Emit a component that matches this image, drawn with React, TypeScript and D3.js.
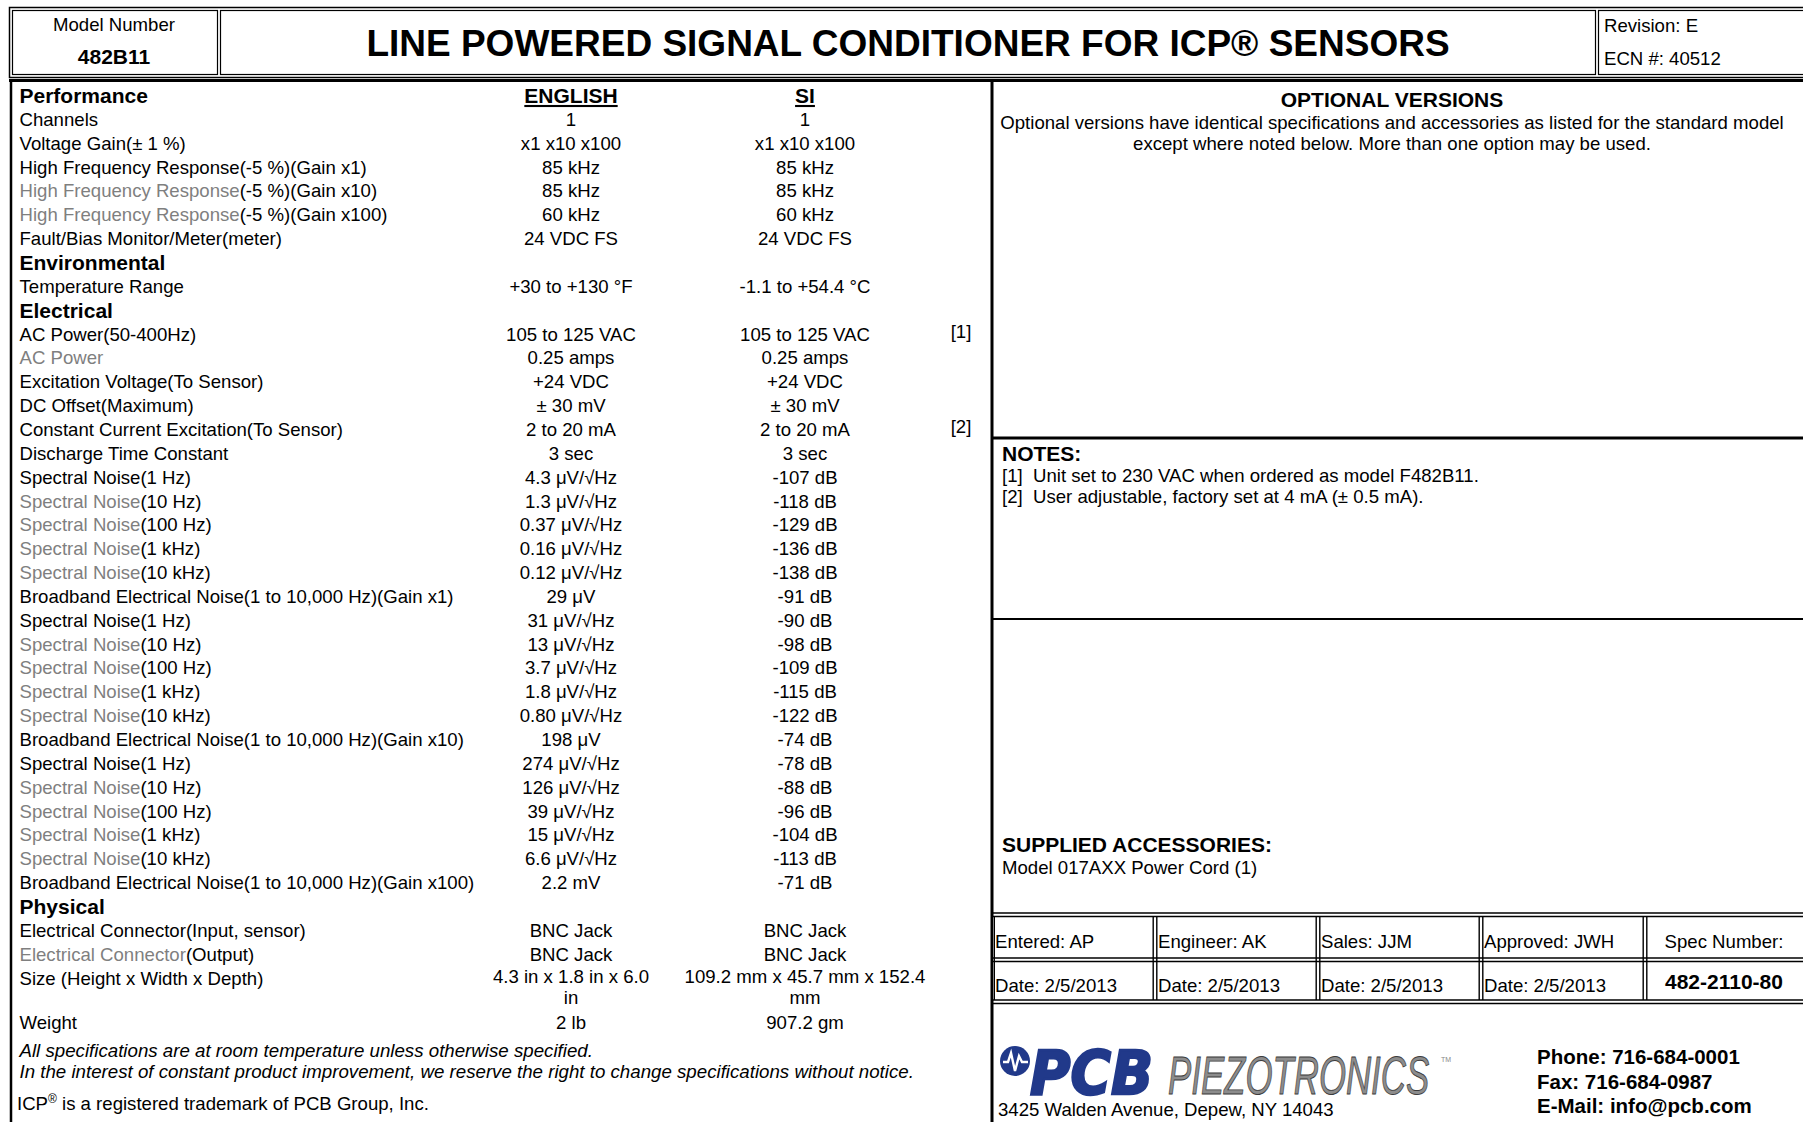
import React from 'react';
import * as d3 from 'd3';

type SpecRow = { gray?: string; label: string; en: string[]; si: string[]; note?: string };

const FONT = '"Liberation Sans", Arial, Helvetica, sans-serif';
const GRAY = '#7f7f7f';

// ---- data ----
const modelNumber = '482B11';
const title = 'LINE POWERED SIGNAL CONDITIONER FOR ICP\u00AE SENSORS';
const revisionInfo = ['Revision: E', 'ECN #: 40512'];
const columnHeads = ['ENGLISH', 'SI'];
const sectionTitles = ['Performance', 'Environmental', 'Electrical', 'Physical'];

const performanceRows: SpecRow[] = [
  { label: 'Channels', en: ['1'], si: ['1'] },
  { label: 'Voltage Gain(\u00B1 1 %)', en: ['x1 x10 x100'], si: ['x1 x10 x100'] },
  { label: 'High Frequency Response(-5 %)(Gain x1)', en: ['85 kHz'], si: ['85 kHz'] },
  { gray: 'High Frequency Response', label: '(-5 %)(Gain x10)', en: ['85 kHz'], si: ['85 kHz'] },
  { gray: 'High Frequency Response', label: '(-5 %)(Gain x100)', en: ['60 kHz'], si: ['60 kHz'] },
  { label: 'Fault/Bias Monitor/Meter(meter)', en: ['24 VDC FS'], si: ['24 VDC FS'] },
];

const environmentalRows: SpecRow[] = [
  { label: 'Temperature Range', en: ['+30 to +130 \u00B0F'], si: ['-1.1 to +54.4 \u00B0C'] },
];

const electricalRows: SpecRow[] = [
  { label: 'AC Power(50-400Hz)', en: ['105 to 125 VAC'], si: ['105 to 125 VAC'], note: '[1]' },
  { gray: 'AC Power', label: '', en: ['0.25 amps'], si: ['0.25 amps'] },
  { label: 'Excitation Voltage(To Sensor)', en: ['+24 VDC'], si: ['+24 VDC'] },
  { label: 'DC Offset(Maximum)', en: ['\u00B1 30 mV'], si: ['\u00B1 30 mV'] },
  { label: 'Constant Current Excitation(To Sensor)', en: ['2 to 20 mA'], si: ['2 to 20 mA'], note: '[2]' },
  { label: 'Discharge Time Constant', en: ['3 sec'], si: ['3 sec'] },
  { label: 'Spectral Noise(1 Hz)', en: ['4.3 \u03BCV/\u221AHz'], si: ['-107 dB'] },
  { gray: 'Spectral Noise', label: '(10 Hz)', en: ['1.3 \u03BCV/\u221AHz'], si: ['-118 dB'] },
  { gray: 'Spectral Noise', label: '(100 Hz)', en: ['0.37 \u03BCV/\u221AHz'], si: ['-129 dB'] },
  { gray: 'Spectral Noise', label: '(1 kHz)', en: ['0.16 \u03BCV/\u221AHz'], si: ['-136 dB'] },
  { gray: 'Spectral Noise', label: '(10 kHz)', en: ['0.12 \u03BCV/\u221AHz'], si: ['-138 dB'] },
  { label: 'Broadband Electrical Noise(1 to 10,000 Hz)(Gain x1)', en: ['29 \u03BCV'], si: ['-91 dB'] },
  { label: 'Spectral Noise(1 Hz)', en: ['31 \u03BCV/\u221AHz'], si: ['-90 dB'] },
  { gray: 'Spectral Noise', label: '(10 Hz)', en: ['13 \u03BCV/\u221AHz'], si: ['-98 dB'] },
  { gray: 'Spectral Noise', label: '(100 Hz)', en: ['3.7 \u03BCV/\u221AHz'], si: ['-109 dB'] },
  { gray: 'Spectral Noise', label: '(1 kHz)', en: ['1.8 \u03BCV/\u221AHz'], si: ['-115 dB'] },
  { gray: 'Spectral Noise', label: '(10 kHz)', en: ['0.80 \u03BCV/\u221AHz'], si: ['-122 dB'] },
  { label: 'Broadband Electrical Noise(1 to 10,000 Hz)(Gain x10)', en: ['198 \u03BCV'], si: ['-74 dB'] },
  { label: 'Spectral Noise(1 Hz)', en: ['274 \u03BCV/\u221AHz'], si: ['-78 dB'] },
  { gray: 'Spectral Noise', label: '(10 Hz)', en: ['126 \u03BCV/\u221AHz'], si: ['-88 dB'] },
  { gray: 'Spectral Noise', label: '(100 Hz)', en: ['39 \u03BCV/\u221AHz'], si: ['-96 dB'] },
  { gray: 'Spectral Noise', label: '(1 kHz)', en: ['15 \u03BCV/\u221AHz'], si: ['-104 dB'] },
  { gray: 'Spectral Noise', label: '(10 kHz)', en: ['6.6 \u03BCV/\u221AHz'], si: ['-113 dB'] },
  { label: 'Broadband Electrical Noise(1 to 10,000 Hz)(Gain x100)', en: ['2.2 mV'], si: ['-71 dB'] },
];

const physicalRows: SpecRow[] = [
  { label: 'Electrical Connector(Input, sensor)', en: ['BNC Jack'], si: ['BNC Jack'] },
  { gray: 'Electrical Connector', label: '(Output)', en: ['BNC Jack'], si: ['BNC Jack'] },
  { label: 'Size (Height x Width x Depth)', en: ['4.3 in x 1.8 in x 6.0', 'in'], si: ['109.2 mm x 45.7 mm x 152.4', 'mm'] },
  { label: 'Weight', en: ['2 lb'], si: ['907.2 gm'] },
];

const sectionRows = [performanceRows, environmentalRows, electricalRows, physicalRows];

const footnotes = [
  'All specifications are at room temperature unless otherwise specified.',
  'In the interest of constant product improvement, we reserve the right to change specifications without notice.',
];

const optionalHead = 'OPTIONAL VERSIONS';
const optionalText = [
  'Optional versions have identical specifications and accessories as listed for the standard model',
  'except where noted below. More than one option may be used.',
];
const notesHead = 'NOTES:';
const notes = ['[1]  Unit set to 230 VAC when ordered as model F482B11.', '[2]  User adjustable, factory set at 4 mA (\u00B1 0.5 mA).'];
const accessoriesHead = 'SUPPLIED ACCESSORIES:';
const accessories = ['Model 017AXX Power Cord (1)'];

const approvalNames = ['Entered: AP', 'Engineer: AK', 'Sales: JJM', 'Approved: JWH'];
const approvalDates = ['Date: 2/5/2013', 'Date: 2/5/2013', 'Date: 2/5/2013', 'Date: 2/5/2013'];
const specNumber = ['Spec Number:', '482-2110-80'];
const logoWords = ['PCB', 'PIEZOTRONICS'];
const address = '3425 Walden Avenue, Depew, NY 14043';
const contact = ['Phone: 716-684-0001', 'Fax: 716-684-0987', 'E-Mail: info@pcb.com'];

// ---- layout ----
const W = 1803;
const H = 1122;
const BODY = 18.6;
const HEAD = 21;
const WRAP = 0.86; // extra slot for a wrapped second line

const App = () => {
  const slot = d3.scaleLinear().domain([0, 1]).range([95.4, 95.4 + 23.85]);
  const colX = d3.scaleOrdinal<string, number>().domain(['label', 'en', 'si', 'note']).range([19.5, 571, 805, 961]);
  const base = (cy: number, fs: number) => cy + fs * 0.36;

  // flatten sections into slots
  type Item = { kind: 'head'; text: string; s: number } | { kind: 'row'; row: SpecRow; s: number };
  const items: Item[] = [];
  let s = 0;
  sectionRows.forEach((rows, i) => {
    items.push({ kind: 'head', text: sectionTitles[i], s });
    s += 1;
    rows.forEach((row) => {
      items.push({ kind: 'row', row, s });
      s += 1 + (Math.max(row.en.length, row.si.length) - 1) * WRAP;
    });
  });
  const wrapGap = (slot(1) - slot(0)) * WRAP;

  // approval table columns
  const tableCols = d3.scaleOrdinal<number, number>().domain([0, 1, 2, 3, 4]).range([993, 1155, 1318, 1481, 1645]);
  const tableEnd = W;

  return (
    <svg width={W} height={H} viewBox={`0 0 ${W} ${H}`} style={{ display: 'block', position: 'absolute', left: 0, top: 0, background: '#fff' }} fontFamily={FONT}>
      <rect x={0} y={0} width={W} height={H} fill="#fff" />

      {/* header frame */}
      <g fill="none" stroke="#000">
        <rect x={9.5} y={7.5} width={1805} height={70} strokeWidth={1.5} />
        <rect x={12.5} y={10.5} width={205} height={64} strokeWidth={1.2} />
        <rect x={220.5} y={10.5} width={1375} height={64} strokeWidth={1.2} />
        <rect x={1598.5} y={10.5} width={220} height={64} strokeWidth={1.2} />
        <line x1={9} x2={W} y1={80.5} y2={80.5} strokeWidth={3} />
        <line x1={11} x2={11} y1={79} y2={H} strokeWidth={2.5} />
        <line x1={992} x2={992} y1={79} y2={H} strokeWidth={3} />
        <line x1={992} x2={W} y1={438} y2={438} strokeWidth={3} />
        <line x1={992} x2={W} y1={619} y2={619} strokeWidth={2.2} />
      </g>

      <text x={114} y={31} textAnchor="middle" fontSize={BODY}>Model Number</text>
      <text x={114} y={64} textAnchor="middle" fontSize={21} fontWeight="bold">{modelNumber}</text>
      <text x={908} y={56} textAnchor="middle" fontSize={37} fontWeight="bold">{title}</text>
      {revisionInfo.map((t, i) => (
        <text key={t} x={1604} y={32 + i * 33} fontSize={BODY}>{t}</text>
      ))}

      {/* column heads */}
      {columnHeads.map((t, i) => (
        <text key={t} x={colX(i === 0 ? 'en' : 'si')} y={base(slot(0), HEAD)} textAnchor="middle" fontSize={HEAD} fontWeight="bold" textDecoration="underline">{t}</text>
      ))}

      {/* spec rows */}
      {items.map((it, i) => {
        const cy = slot(it.s);
        if (it.kind === 'head') {
          return (
            <text key={i} x={colX('label')} y={base(cy, HEAD)} fontSize={HEAD} fontWeight="bold">{it.text}</text>
          );
        }
        const r = it.row;
        return (
          <g key={i} fontSize={BODY}>
            <text x={colX('label')} y={base(cy, BODY)}>
              {r.gray && <tspan fill={GRAY}>{r.gray}</tspan>}
              {r.label && <tspan>{r.label}</tspan>}
            </text>
            {r.en.map((t, k) => (
              <text key={'e' + k} x={colX('en')} y={base(cy, BODY) - (r.en.length > 1 ? 1.5 : 0) + k * wrapGap} textAnchor="middle">{t}</text>
            ))}
            {r.si.map((t, k) => (
              <text key={'s' + k} x={colX('si')} y={base(cy, BODY) - (r.si.length > 1 ? 1.5 : 0) + k * wrapGap} textAnchor="middle">{t}</text>
            ))}
            {r.note && <text x={colX('note')} y={base(cy, BODY) - 3} textAnchor="middle">{r.note}</text>}
          </g>
        );
      })}

      {/* footnotes */}
      {footnotes.map((t, i) => (
        <text key={t} x={19.5} y={1057 + i * 20.5} fontSize={18.7} fontStyle="italic">{t}</text>
      ))}
      <text x={17} y={1110} fontSize={BODY}>
        ICP<tspan fontSize={12} dy={-7}>{'\u00AE'}</tspan>
        <tspan dy={7}> is a registered trademark of PCB Group, Inc.</tspan>
      </text>

      {/* right panel */}
      <text x={1392} y={base(99, HEAD)} textAnchor="middle" fontSize={HEAD} fontWeight="bold">{optionalHead}</text>
      {optionalText.map((t, i) => (
        <text key={t} x={1392} y={base(122 + i * 21, BODY)} textAnchor="middle" fontSize={BODY}>{t}</text>
      ))}
      <text x={1002} y={base(453, HEAD)} fontSize={HEAD} fontWeight="bold">{notesHead}</text>
      {notes.map((t, i) => (
        <text key={t} x={1002} y={base(475 + i * 21, BODY)} fontSize={BODY} style={{ whiteSpace: 'pre' }}>{t}</text>
      ))}
      <text x={1002} y={base(844, HEAD)} fontSize={HEAD} fontWeight="bold">{accessoriesHead}</text>
      {accessories.map((t, i) => (
        <text key={t} x={1002} y={base(867 + i * 21, BODY)} fontSize={BODY}>{t}</text>
      ))}

      {/* approval table */}
      <g stroke="#000" strokeWidth={1.4}>
        {[913, 916.5, 958, 961.5, 1000, 1003.5].map((y) => (
          <line key={y} x1={993} x2={tableEnd} y1={y} y2={y} />
        ))}
        {[1, 2, 3, 4].map((c) => (
          <g key={c}>
            <line x1={tableCols(c) - 1.8} x2={tableCols(c) - 1.8} y1={916.5} y2={1000} />
            <line x1={tableCols(c) + 1.8} x2={tableCols(c) + 1.8} y1={916.5} y2={1000} />
          </g>
        ))}
        <line x1={tableCols(0) + 1.5} x2={tableCols(0) + 1.5} y1={916.5} y2={1000} strokeWidth={1} />
      </g>
      {approvalNames.map((t, i) => (
        <text key={t} x={tableCols(i) + (i === 0 ? 2 : 3)} y={base(941, BODY)} fontSize={BODY}>{t}</text>
      ))}
      {approvalDates.map((t, i) => (
        <text key={i} x={tableCols(i) + (i === 0 ? 2 : 3)} y={base(985, BODY)} fontSize={BODY}>{t}</text>
      ))}
      <text x={1724} y={base(941, BODY)} textAnchor="middle" fontSize={BODY}>{specNumber[0]}</text>
      <text x={1724} y={base(981, 21)} textAnchor="middle" fontSize={21} fontWeight="bold">{specNumber[1]}</text>

      {/* logo (squeezed with transforms so the boxes stay true) */}
      <g>
        <circle cx={1015} cy={1061} r={15} fill="#21398a" />
        <path d="M1003,1062 L1008,1062 L1011,1053 L1015,1071 L1019,1056 L1022,1062 L1028,1062" fill="none" stroke="#fff" strokeWidth={2.4} />
        <text transform="translate(1030,1094) scale(0.92,1)" fontSize={60} fontWeight="bold" fontStyle="italic" fill="#21398a" stroke="#21398a" strokeWidth={2.5} fontFamily='"DejaVu Sans", "Liberation Sans", sans-serif'>{logoWords[0]}</text>
        <text transform="translate(1168,1094) scale(0.645,1)" fontSize={54} fontStyle="italic" fill="#8c8c8c" stroke="#3c3c3c" strokeWidth={0.9}>{logoWords[1]}</text>
        <text x={1441} y={1062} fontSize={7} fill="#888">TM</text>
      </g>
      <text x={998} y={base(1109, BODY)} fontSize={BODY}>{address}</text>
      {contact.map((t, i) => (
        <text key={t} x={1537} y={base(1057 + i * 24.5, 20.5)} fontSize={20.5} fontWeight="bold">{t}</text>
      ))}
    </svg>
  );
};

export default App;
